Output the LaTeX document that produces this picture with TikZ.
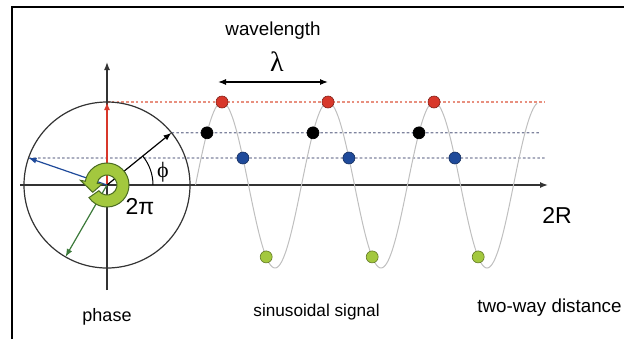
\documentclass[tikz,border=0pt]{standalone}
\usepackage{fontspec}
\setmainfont{Liberation Sans}
\newfontfamily\greekserif{Liberation Serif}
\usetikzlibrary{arrows.meta,calc}
\definecolor{phasered}{HTML}{D8372A}
\definecolor{phaseblue}{HTML}{1F4A9A}
\definecolor{phasegreen}{HTML}{A3C83E}
\definecolor{ringdark}{HTML}{4A6B22}
\definecolor{vecgreen}{HTML}{3C7A3A}
\definecolor{guidegray}{HTML}{7F849E}
\definecolor{redguide}{HTML}{E8907F}
\tikzset{
  axis/.style={-{Latex[length=4pt,width=3pt]}, line width=0.7pt, draw=black!80},
  vec/.style={-{Latex[length=4pt,width=3pt]}, line width=0.6pt},
  guide/.style={dash pattern=on 1.3pt off 1.1pt, line width=0.6pt},
  dot/.style={circle, inner sep=0pt, minimum size=6pt, draw=#1!60!black, fill=#1, line width=0.3pt},
  sine/.style={draw=black!25, line width=0.5pt},
  ring/.style={fill=phasegreen, draw=ringdark, line width=0.5pt},
  lbl/.style={inner sep=0pt}
}
\begin{document}
\begin{tikzpicture}[x=0.5pt, y=0.5pt]
  \useasboundingbox (0,0) rectangle (624,339);
  \draw[line width=1.3pt] (12,0) -- (12,332) -- (624,332);

  \coordinate (O) at (107,154);
  \coordinate (tipR) at ($(O)+(90:83)$);
  \coordinate (tipK) at ($(O)+(39:83)$);
  \coordinate (tipB) at ($(O)+(161:83)$);
  \coordinate (tipG) at ($(O)+(240:83)$);
  \coordinate (endR) at (545,237);
  \coordinate (endK) at (541,206.2);
  \coordinate (endB) at (545,181);
  \coordinate (xa0) at (20,154);
  \coordinate (xa1) at (548,154);
  \coordinate (ya0) at (107,49);
  \coordinate (ya1) at (107,277);
  \coordinate (wl0) at (218,257);
  \coordinate (wl1) at (328,257);

  \draw[guide, draw=redguide] (tipR) -- (endR);
  \draw[guide, draw=guidegray] (tipK) -- (endK);
  \draw[guide, draw=guidegray] (tipB) -- (endB);

  \draw[axis] (xa0) -- (xa1);
  \draw[axis] (ya0) -- (ya1);
  \draw[line width=0.6pt, draw=black!80] (O) circle[radius=83];
  \draw[line width=0.5pt] ($(O)+(0:46)$) arc[start angle=0, end angle=39, radius=46];

  \draw[sine] plot[domain=0:1160, samples=260, variable=\t] ({222+0.29444*(\t-90)},{154+83*sin(\t)});

  \draw[vec, draw=phasered, line width=1pt] (O) -- (tipR);
  \draw[vec, draw=black] (O) -- (tipK);
  \draw[vec, draw=phaseblue] (O) -- (tipB);
  \draw[vec, draw=vecgreen] (O) -- (tipG);

  \filldraw[ring] ($(O)+(215:22)$) arc[start angle=215, end angle=530, radius=22]
    -- ($(O)+(170:27)$) -- ($(O)+(207:16)$) -- ($(O)+(170:5)$) -- ($(O)+(170:10)$)
    arc[start angle=530, end angle=215, radius=10] -- cycle;

  \foreach \k in {0,1,2} {
    \node[dot=phasered] (red\k) at ({222+106*\k},237) {};
    \node[dot=black] (blk\k) at ({207+106*\k},206.2) {};
    \node[dot=phaseblue] (blu\k) at ({242.9+106*\k},181) {};
    \node[dot=phasegreen] (grn\k) at ({266.2+106*\k},82.1) {};
  }

  \draw[{Latex[length=4pt,width=3pt]}-{Latex[length=4pt,width=3pt]}, line width=0.6pt] (wl0) -- (wl1);

  \node[lbl, font=\fontsize{9.4}{11}\selectfont] (wave) at (273,308) {wavelength};
  \node[lbl, font=\fontsize{14}{16}\greekserif] (lam) at (277,277) {λ};
  \node[lbl, font=\fontsize{11}{13}\greekserif] (phi) at (163,167) {ϕ};
  \node[lbl, font=\fontsize{11.5}{13}\selectfont] (twopi) at (140,132) {2π};
  \node[lbl, font=\fontsize{11.5}{13}\selectfont] (dist) at (557,124) {2R};
  \node[lbl, font=\fontsize{9}{11}\selectfont] (phase) at (107,22) {phase};
  \node[lbl, font=\fontsize{8.6}{10}\selectfont, anchor=west] (signal) at (253,27) {sinusoidal signal};
  \node[lbl, font=\fontsize{9.4}{11}\selectfont, anchor=west] (twoway) at (477,31) {two-way distance};
\end{tikzpicture}
\end{document}
